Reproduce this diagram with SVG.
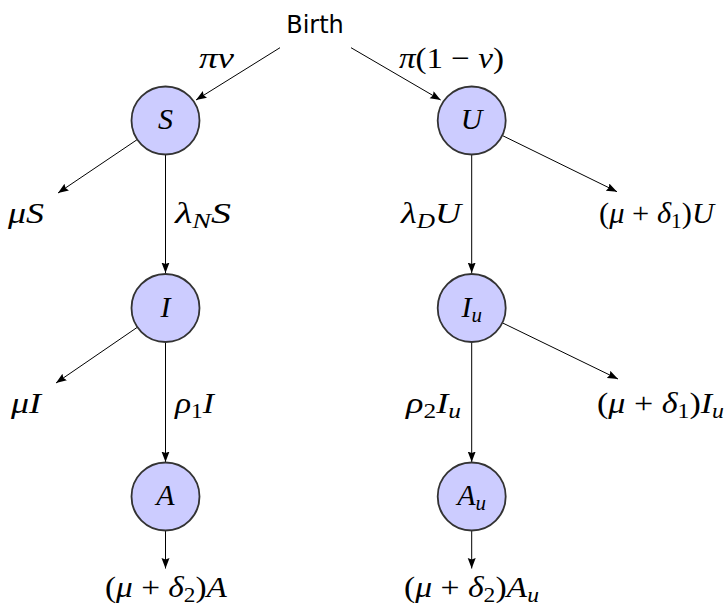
<svg xmlns="http://www.w3.org/2000/svg" width="727" height="607" viewBox="0 0 727 607">
<style>
.node{fill:#ccccff;stroke:#333333;stroke-width:1.8}
.edge{fill:none;stroke:#000000;stroke-width:1}
.m{font-family:"Liberation Serif","DejaVu Serif",serif;font-size:30px;fill:#000}
.i{font-style:italic}
.sub{font-size:21px}
.nl{font-family:"Liberation Serif","DejaVu Serif",serif;font-size:30px;font-style:italic;fill:#000;text-anchor:middle}
.sans{font-family:"DejaVu Sans",sans-serif;font-size:24px;fill:#000;text-anchor:middle}
</style>
<defs>
<marker id="arr" markerUnits="userSpaceOnUse" markerWidth="12" markerHeight="9" refX="10.5" refY="4" orient="auto">
<path d="M0,0 L10.5,4 L0,8 L1.5,4 z" fill="#000"/>
</marker>
</defs>
<rect width="727" height="607" fill="#ffffff"/>
<g id="connectors">
<line class="edge" x1="280" y1="47.7" x2="196" y2="100" marker-end="url(#arr)"/>
<line class="edge" x1="351" y1="47.7" x2="440.7" y2="100" marker-end="url(#arr)"/>
<line class="edge" x1="136.9" y1="139.8" x2="58" y2="193" marker-end="url(#arr)"/>
<line class="edge" x1="165.5" y1="155" x2="165.5" y2="273" marker-end="url(#arr)"/>
<line class="edge" x1="471.7" y1="155" x2="471.7" y2="273" marker-end="url(#arr)"/>
<line class="edge" x1="502.7" y1="135.7" x2="617" y2="191.7" marker-end="url(#arr)"/>
<line class="edge" x1="137" y1="327.5" x2="56" y2="383" marker-end="url(#arr)"/>
<line class="edge" x1="165.5" y1="342.5" x2="165.5" y2="462" marker-end="url(#arr)"/>
<line class="edge" x1="471.7" y1="342.5" x2="471.7" y2="462" marker-end="url(#arr)"/>
<line class="edge" x1="502.7" y1="323" x2="618" y2="379" marker-end="url(#arr)"/>
<line class="edge" x1="165.5" y1="530.5" x2="165.5" y2="568.5" marker-end="url(#arr)"/>
<line class="edge" x1="471.7" y1="530.5" x2="471.7" y2="568.5" marker-end="url(#arr)"/>
</g>
<g id="labels">
<text class="m i" x="199" y="68" textLength="35" lengthAdjust="spacingAndGlyphs">πν</text>
<text class="m" x="399" y="68" textLength="105" lengthAdjust="spacingAndGlyphs"><tspan class="i">π</tspan>(1 − <tspan class="i">ν</tspan>)</text>
<text class="m i" x="8" y="223" textLength="36" lengthAdjust="spacingAndGlyphs">μS</text>
<text class="m i" x="175" y="223" textLength="56" lengthAdjust="spacingAndGlyphs">λ<tspan class="sub" dy="5">N</tspan><tspan dy="-5">S</tspan></text>
<text class="m i" x="401" y="223" textLength="60" lengthAdjust="spacingAndGlyphs">λ<tspan class="sub" dy="5">D</tspan><tspan dy="-5">U</tspan></text>
<text class="m" x="599" y="223" textLength="115" lengthAdjust="spacingAndGlyphs">(<tspan class="i">μ</tspan> + <tspan class="i">δ</tspan><tspan class="sub" dy="5">1</tspan><tspan dy="-5">)</tspan><tspan class="i">U</tspan></text>
<text class="m i" x="11" y="413" textLength="30" lengthAdjust="spacingAndGlyphs">μI</text>
<text class="m i" x="175" y="413" textLength="39" lengthAdjust="spacingAndGlyphs">ρ<tspan class="sub" dy="5" font-style="normal">1</tspan><tspan dy="-5">I</tspan></text>
<text class="m i" x="406" y="413" textLength="55" lengthAdjust="spacingAndGlyphs">ρ<tspan class="sub" dy="5" font-style="normal">2</tspan><tspan dy="-5">I</tspan><tspan class="sub" dy="5">u</tspan></text>
<text class="m" x="597" y="413" textLength="127" lengthAdjust="spacingAndGlyphs">(<tspan class="i">μ</tspan> + <tspan class="i">δ</tspan><tspan class="sub" dy="5">1</tspan><tspan dy="-5">)</tspan><tspan class="i">I</tspan><tspan class="sub i" dy="5">u</tspan></text>
<text class="m" x="105" y="597" textLength="122" lengthAdjust="spacingAndGlyphs">(<tspan class="i">μ</tspan> + <tspan class="i">δ</tspan><tspan class="sub" dy="5">2</tspan><tspan dy="-5">)</tspan><tspan class="i">A</tspan></text>
<text class="m" x="404" y="597" textLength="135" lengthAdjust="spacingAndGlyphs">(<tspan class="i">μ</tspan> + <tspan class="i">δ</tspan><tspan class="sub" dy="5">2</tspan><tspan dy="-5">)</tspan><tspan class="i">A</tspan><tspan class="sub i" dy="5">u</tspan></text>
</g>
<g id="node-birth">
<text class="sans" x="315" y="33">Birth</text>
</g>
<g id="node-S">
<circle class="node" cx="165.5" cy="120.5" r="34"/>
<text class="nl" x="165.5" y="129">S</text>
</g>
<g id="node-U">
<circle class="node" cx="471.7" cy="120.5" r="34"/>
<text class="nl" x="471.7" y="129">U</text>
</g>
<g id="node-I">
<circle class="node" cx="165.5" cy="308" r="34"/>
<text class="nl" x="165.5" y="316.5">I</text>
</g>
<g id="node-Iu">
<circle class="node" cx="471.7" cy="308" r="34"/>
<text class="nl" x="471.7" y="316.5">I<tspan class="sub" dy="5">u</tspan></text>
</g>
<g id="node-A">
<circle class="node" cx="165.5" cy="496.5" r="34"/>
<text class="nl" x="165.5" y="505">A</text>
</g>
<g id="node-Au">
<circle class="node" cx="471.7" cy="496.5" r="34"/>
<text class="nl" x="471.7" y="505">A<tspan class="sub" dy="5">u</tspan></text>
</g>
</svg>
